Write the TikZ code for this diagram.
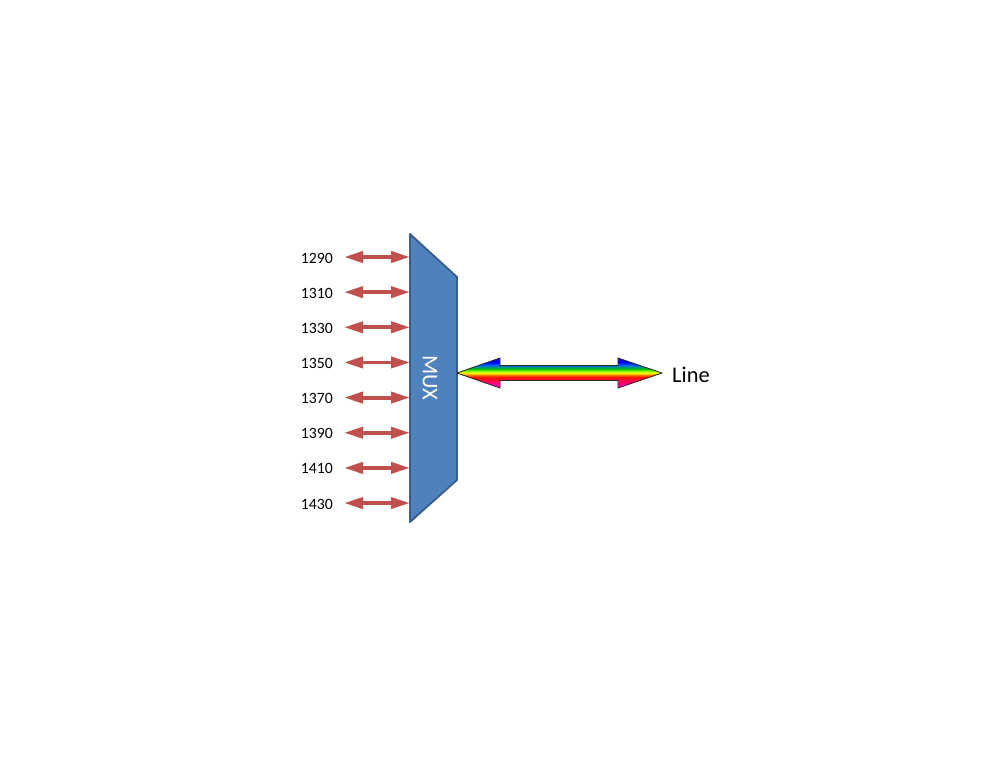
\documentclass[tikz,border=0pt]{standalone}
\usepackage{fontspec}
\setmainfont{Carlito}
\usetikzlibrary{arrows.meta,calc}
\definecolor{muxblue}{RGB}{79,129,189}
\definecolor{muxedge}{RGB}{56,93,138}
\definecolor{chanred}{RGB}{192,80,77}
\pgfdeclareverticalshading{rainbow}{100bp}{%
  color(0bp)=(magenta!80!red); color(25bp)=(magenta!80!red); color(31bp)=(magenta!60!red);
  color(43bp)=(red!90!orange); color(47bp)=(orange);
  color(50bp)=(yellow); color(53bp)=(yellow!60!green);
  color(57bp)=(green!75!black); color(63bp)=(cyan!40!blue);
  color(68bp)=(blue); color(75bp)=(blue!80!violet); color(100bp)=(blue!80!violet)}
\tikzset{
  mux/.style={fill=muxblue, draw=muxedge, line width=1.8bp, line join=round},
  chan/.style={{Triangle[length=19bp,width=11bp]}-{Triangle[length=19bp,width=11bp]}, draw=chanred, line width=3.8bp},
  freq/.style={anchor=east, inner sep=0pt, font=\fontsize{15.8}{18}\selectfont},
  big/.style={inner sep=0pt, font=\fontsize{22.5}{27}\selectfont},
  trunk/.style={shading=rainbow, draw=black!85, line width=0.8bp, line join=miter}
}
\begin{document}
\begin{tikzpicture}[x=1bp, y=-1bp]
    \fill[white] (0,0) rectangle (1006,768);
    \useasboundingbox (0,0) rectangle (1006,768);

    % MUX block
    \draw[mux] (410,234) -- (457,277) -- (457,480) -- (410,522) -- cycle;
    \node[big, white, rotate=-90] (muxlbl) at (430,378) {MUX};

    % Wavelength channels
    \foreach \f [count=\i from 0] in {1290,1310,1330,1350,1370,1390,1410,1430} {
        \node[freq] (f\f) at (333, 258+35.15*\i) {\f};
        \coordinate (src\f) at (344, 257+35.15*\i);
        \coordinate (in\f) at (410, 257+35.15*\i);
        \draw[chan] (src\f) -- (in\f);
    }

    % Line side
    \coordinate (muxout) at (457,373);
    \coordinate (lineend) at (662,373);
    \shade[trunk] (muxout) -- ++(43,-15) -- ++(0,7.5) -- ++(118,0) -- ++(0,-7.5)
        -- (lineend) -- ++(-44,15) -- ++(0,-7.5) -- ++(-118,0) -- ++(0,7.5) -- cycle;
    \node[big, anchor=west] (line) at (672,375) {Line};
\end{tikzpicture}
\end{document}
